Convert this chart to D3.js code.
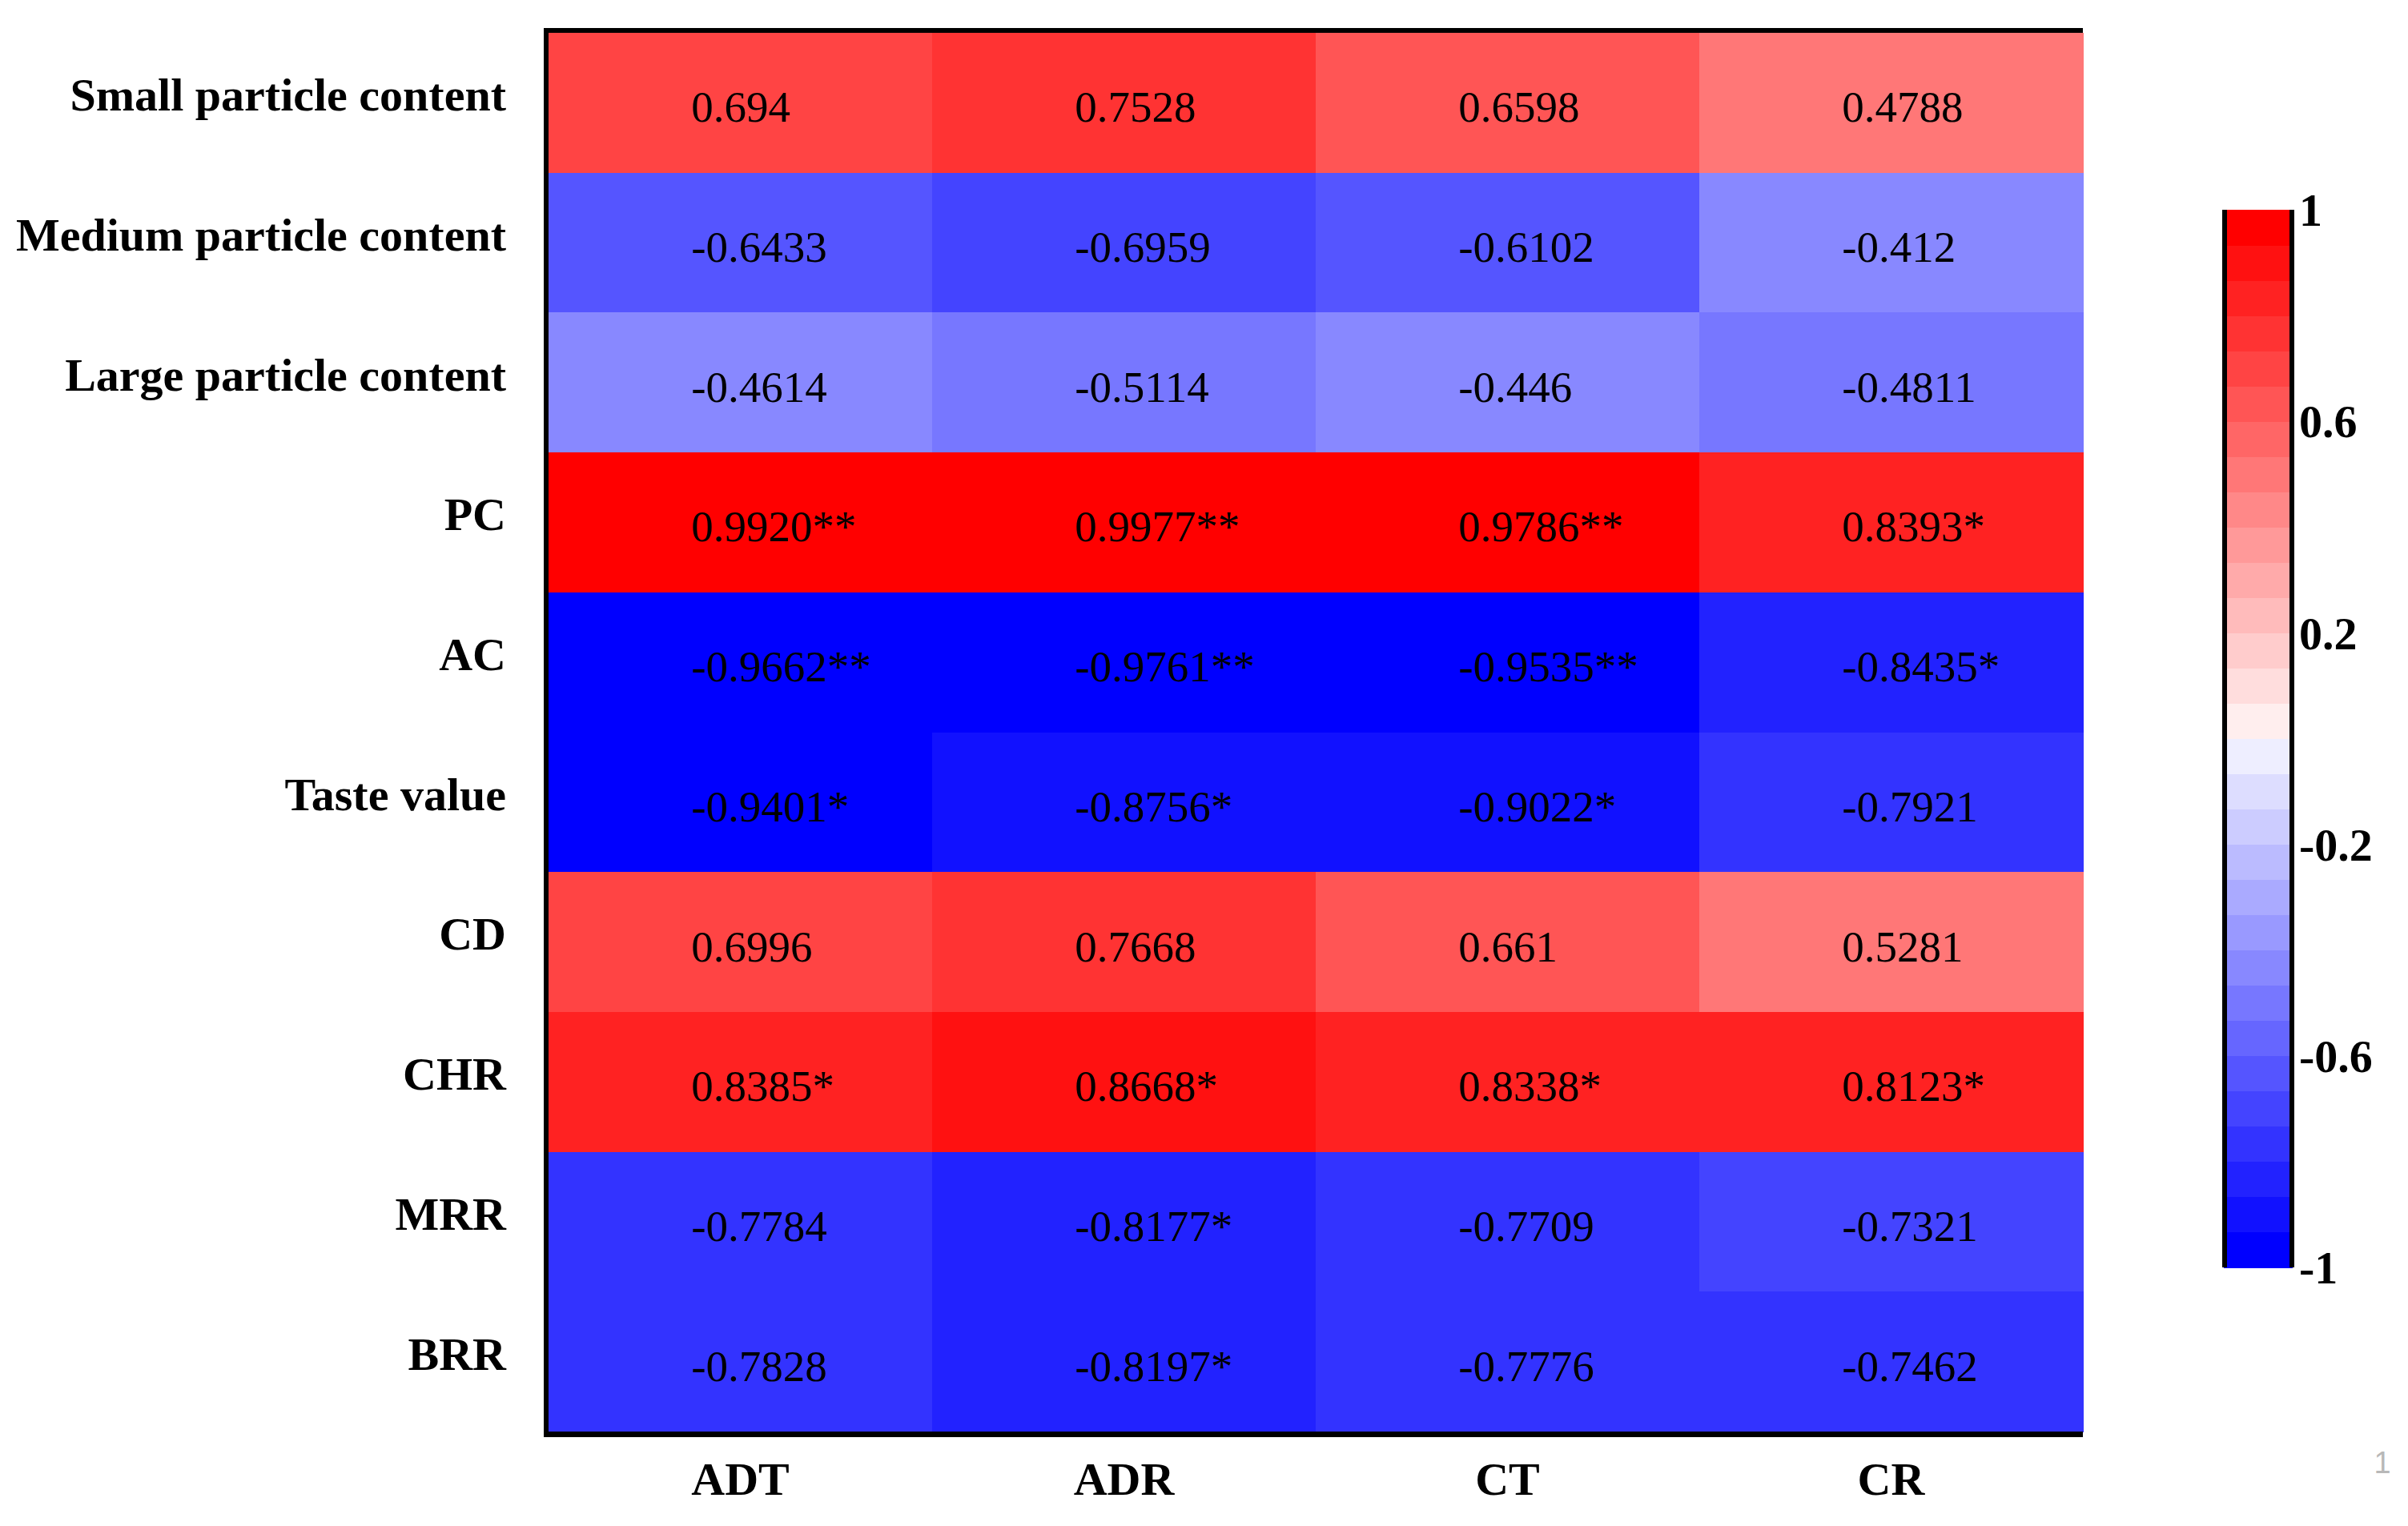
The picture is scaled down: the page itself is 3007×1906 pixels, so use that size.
<!DOCTYPE html>
<html>
<head>
<meta charset="utf-8">
<script src="https://cdn.jsdelivr.net/npm/d3@7"></script>
<style>
  body { margin: 0; background: #fff; }
</style>
</head>
<body>
<div id="chart"></div>
<script>
// Data
const rowNames = ["Small particle content", "Medium particle content", "Large particle content",
  "PC", "AC", "Taste value", "CD", "CHR", "MRR", "BRR"];
const colNames = ["ADT", "ADR", "CT", "CR"];
const cellText = [
  ["0.694", "0.7528", "0.6598", "0.4788"],
  ["-0.6433", "-0.6959", "-0.6102", "-0.412"],
  ["-0.4614", "-0.5114", "-0.446", "-0.4811"],
  ["0.9920**", "0.9977**", "0.9786**", "0.8393*"],
  ["-0.9662**", "-0.9761**", "-0.9535**", "-0.8435*"],
  ["-0.9401*", "-0.8756*", "-0.9022*", "-0.7921"],
  ["0.6996", "0.7668", "0.661", "0.5281"],
  ["0.8385*", "0.8668*", "0.8338*", "0.8123*"],
  ["-0.7784", "-0.8177*", "-0.7709", "-0.7321"],
  ["-0.7828", "-0.8197*", "-0.7776", "-0.7462"]
];
const legendTicks = [-1, -0.6, -0.2, 0.2, 0.6, 1];

const width = 3007;
const height = 1906;
const serif = "'Liberation Serif', 'Times New Roman', serif";

// 30-step blue-white-red palette
const nSteps = 15;
const palette = [];
for (let k = 0; k < nSteps; k++) palette.push(d3.rgb(17 * k, 17 * k, 255).formatHex());
for (let k = nSteps - 1; k >= 0; k--) palette.push(d3.rgb(255, 17 * k, 17 * k).formatHex());

const colorScale = d3.scaleQuantize().domain([-1, 1]).range(palette);

const cells = [];
rowNames.forEach((r, i) => {
  colNames.forEach((c, j) => {
    cells.push({ row: r, col: c, text: cellText[i][j], value: parseFloat(cellText[i][j]) });
  });
});

const svg = d3.select("#chart")
  .append("svg")
  .attr("width", width)
  .attr("height", height);

const x = d3.scaleBand().domain(colNames).range([685, 2601]);
const y = d3.scaleBand().domain(rowNames).range([41, 1788]);

// cells
svg.append("g")
  .selectAll("rect")
  .data(cells)
  .enter()
  .append("rect")
  .attr("x", d => x(d.col))
  .attr("y", d => y(d.row))
  .attr("width", x.bandwidth() + 0.5)
  .attr("height", y.bandwidth() + 0.5)
  .attr("fill", d => colorScale(d.value))
  .attr("shape-rendering", "crispEdges");

svg.append("g")
  .selectAll("text")
  .data(cells)
  .enter()
  .append("text")
  .attr("x", d => x(d.col) + x.bandwidth() * 0.372)
  .attr("y", d => y(d.row) + y.bandwidth() / 2 + 24)
  .attr("font-family", serif)
  .attr("font-size", "55px")
  .attr("fill", "#000")
  .text(d => d.text);

// frame: left, top, bottom
const frame = svg.append("g").attr("stroke", "#000").attr("fill", "none");
frame.append("line").attr("x1", 682).attr("x2", 682).attr("y1", 35).attr("y2", 1795).attr("stroke-width", 6);
frame.append("line").attr("x1", 679).attr("x2", 2601).attr("y1", 38).attr("y2", 38).attr("stroke-width", 6);
frame.append("line").attr("x1", 679).attr("x2", 2601).attr("y1", 1791.5).attr("y2", 1791.5).attr("stroke-width", 7);

// axes
const yAxis = svg.append("g")
  .attr("transform", "translate(685,0)")
  .call(d3.axisLeft(y).tickSize(0).tickPadding(53));
yAxis.select(".domain").remove();
yAxis.selectAll("text")
  .attr("dy", "0.17em")
  .attr("font-family", serif)
  .attr("font-weight", "bold")
  .attr("font-size", "58px")
  .attr("fill", "#000");

const xAxis = svg.append("g")
  .attr("transform", "translate(0,1788)")
  .call(d3.axisBottom(x).tickSize(0).tickPadding(38));
xAxis.select(".domain").remove();
xAxis.selectAll("text")
  .attr("font-family", serif)
  .attr("font-weight", "bold")
  .attr("font-size", "58px")
  .attr("fill", "#000");

// colour legend
const legendX = 2777;
const legendW = 86;
const legendScale = d3.scaleLinear().domain([-1, 1]).range([1583, 262]);
const step = 2 / palette.length;

svg.append("g")
  .selectAll("rect")
  .data(palette)
  .enter()
  .append("rect")
  .attr("x", legendX)
  .attr("y", (d, i) => legendScale(-1 + (i + 1) * step))
  .attr("width", legendW)
  .attr("height", (d, i) => legendScale(-1 + i * step) - legendScale(-1 + (i + 1) * step) + 0.5)
  .attr("fill", d => d)
  .attr("shape-rendering", "crispEdges");

const lb = svg.append("g").attr("stroke", "#000").attr("stroke-width", 6);
lb.append("line").attr("x1", legendX + 1).attr("x2", legendX + 1).attr("y1", 262).attr("y2", 1583);
lb.append("line").attr("x1", legendX + legendW - 1).attr("x2", legendX + legendW - 1).attr("y1", 262).attr("y2", 1583);

const legendAxis = svg.append("g")
  .attr("transform", `translate(${legendX + legendW},0)`)
  .call(d3.axisRight(legendScale).tickValues(legendTicks).tickSize(0).tickPadding(8).tickFormat(d => String(d)));
legendAxis.select(".domain").remove();
legendAxis.selectAll("text")
  .attr("dy", "0.34em")
  .attr("font-family", serif)
  .attr("font-weight", "bold")
  .attr("font-size", "58px")
  .attr("fill", "#000");

// page number
svg.append("text")
  .attr("x", 2975)
  .attr("y", 1840)
  .attr("text-anchor", "middle")
  .attr("font-family", "'Liberation Sans', Arial, sans-serif")
  .attr("font-size", "38px")
  .attr("fill", "#b8b8b8")
  .text("1");
</script>
</body>
</html>
